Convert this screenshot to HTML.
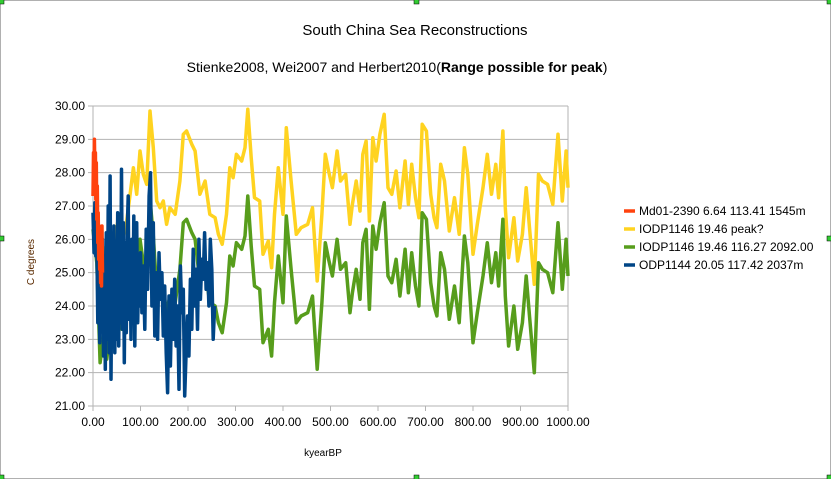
<!DOCTYPE html>
<html><head><meta charset="utf-8"><style>
body{margin:0;background:#fff;}
#wrap{position:relative;width:831px;height:479px;overflow:hidden;font-family:"Liberation Sans",sans-serif;}
svg text{font-family:"Liberation Sans",sans-serif;}
</style></head><body>
<div id="wrap">
<svg id="chart" width="831" height="479"></svg>
</div>
<script>
const xTicks=[0,100,200,300,400,500,600,700,800,900,1000];
const yTicks=[21,22,23,24,25,26,27,28,29,30];
const redK=[0,1,2,3,4,5,6,7,8,9,10,11,12,13,14,15,16,17,18,19,20];
const redV=[27.3,28.6,27.6,29.0,28.0,28.6,27.2,28.3,26.6,27.6,25.9,26.8,25.4,26.4,25.1,26.3,24.7,25.8,24.6,26.4,25.0];
const greenK=[0,8,15,22,29,36,43,54,61,71,78,85,92,99,106,113,120,127,134,141,148,155,162,173,183,190,197,208,215,225,236,246,257,264,272,281,288,295,302,313,320,326,333,340,351,358,369,376,382,390,400,407,417,428,438,452,462,472,482,489,496,504,514,521,532,541,546,554,562,568,575,582,589,596,604,613,621,629,638,646,657,664,671,679,686,693,702,711,718,724,732,740,750,761,771,782,789,800,809,821,830,839,848,854,863,868,875,886,894,904,912,919,929,938,946,957,968,979,988,996,1000];
const greenV=[26.3,25.3,22.3,23.1,22.4,23.3,22.9,24.1,23.3,23.9,24.7,25.5,24.7,26.0,25.3,25.0,27.2,26.1,24.5,24.3,24.5,23.8,24.3,24.1,25.1,26.5,26.6,26.2,26.0,24.7,25.1,24.1,24.0,23.5,23.2,24.1,25.5,25.2,25.9,25.7,26.1,27.3,25.8,24.6,24.5,22.9,23.3,22.5,24.1,25.5,24.1,26.7,25.1,23.5,23.7,23.8,24.3,22.1,24.1,25.9,25.4,24.9,26.0,25.1,25.3,23.8,24.4,25.1,24.2,25.9,26.3,23.9,26.4,25.7,26.5,27.1,24.9,24.7,25.4,24.3,25.7,24.4,25.6,24.6,24.0,26.8,26.6,24.7,24.0,23.7,25.6,25.1,23.6,24.6,23.5,26.1,25.3,22.9,23.8,24.9,25.9,24.7,25.6,24.6,26.6,24.3,22.8,24.0,22.7,23.5,24.9,23.7,22.0,25.3,25.1,25.0,24.4,26.5,24.5,26.0,24.9];
const yellowK=[10,15,22,29,36,43,54,61,71,78,85,92,99,106,113,120,127,134,141,148,155,162,173,183,190,197,208,215,225,236,246,257,264,272,281,288,295,302,313,320,326,333,340,351,358,369,376,382,390,400,407,417,428,438,452,462,472,482,489,496,504,514,521,532,541,546,554,562,568,575,582,589,596,604,613,621,629,638,646,657,664,671,679,686,693,702,711,718,724,732,740,750,761,771,782,789,800,809,821,830,839,848,854,863,868,875,886,894,904,912,919,929,938,946,957,968,979,988,996,1000];
const yellowV=[26.0,24.95,25.75,25.05,25.95,25.55,26.75,25.95,26.55,27.35,28.15,27.35,28.65,27.95,27.65,29.85,28.75,27.15,26.95,27.15,26.45,26.95,26.75,27.75,29.15,29.25,28.85,28.65,27.35,27.75,26.75,26.65,26.15,25.85,26.75,28.15,27.85,28.55,28.35,28.75,29.9,28.45,27.25,27.15,25.55,25.95,25.15,26.75,28.15,26.75,29.35,27.75,26.15,26.35,26.45,26.95,24.75,26.75,28.55,28.05,27.55,28.65,27.75,27.95,26.45,27.05,27.75,26.85,28.55,28.95,26.55,29.05,28.35,29.15,29.75,27.55,27.35,28.05,26.95,28.35,27.05,28.25,27.25,26.65,29.45,29.25,27.35,26.65,26.35,28.25,27.75,26.25,27.25,26.15,28.75,27.95,25.55,26.45,27.55,28.55,27.35,28.25,27.25,29.25,26.95,25.45,26.65,25.35,26.15,27.55,26.35,24.65,27.95,27.75,27.65,27.05,29.15,27.15,28.65,27.55];
const blueK=[0,2,4,6,8,10,12,14,16,18,20,22,24,26,28,30,32,34,36,38,40,42,44,46,48,50,52,54,56,58,60,62,64,66,68,70,72,74,76,78,80,82,84,86,88,90,92,94,96,98,100,103,106,109,112,115,118,121,124,127,130,133,136,139,142,145,148,151,154,157,160,163,166,169,172,175,178,181,184,187,190,193,196,199,202,205,208,211,214,217,220,223,226,229,232,235,238,241,244,247,250,253,256];
const blueV=[26.8,25.6,27.1,25.5,26.0,23.5,25.8,22.9,25.3,23.6,26.0,22.5,25.5,22.1,26.2,23.0,27.0,22.6,27.9,21.8,25.6,23.2,26.4,22.6,25.8,23.0,26.8,22.8,26.0,23.5,28.1,23.3,26.5,22.3,25.9,23.2,26.2,27.3,23.6,25.4,23.0,26.0,23.8,26.7,22.8,25.3,26.5,23.5,25.0,24.0,25.6,23.8,25.2,23.3,26.3,24.5,27.3,28.0,24.0,26.5,23.1,25.0,23.0,25.6,24.2,25.0,23.1,24.6,22.6,21.4,24.3,22.2,24.5,23.0,24.8,22.8,24.0,21.5,25.2,23.8,24.5,21.3,22.6,23.7,22.5,24.8,23.3,25.7,24.0,25.1,23.3,26.0,24.2,25.4,24.8,26.2,24.5,25.3,24.0,26.0,25.1,23.0,24.0];

const NS='http://www.w3.org/2000/svg';
const svg=document.getElementById('chart');
const L=93,R=568,T=106,B=406;
const xs=k=>L+(k-0)/1000*(R-L);
const ys=v=>B-(v-21)/9*(B-T);
function mk(tag,attrs,parent){const e=document.createElementNS(NS,tag);for(const k in attrs)e.setAttribute(k,attrs[k]);(parent||svg).appendChild(e);return e;}

let fr=mk('rect',{x:0.5,y:0.5,width:830,height:478,fill:'#fff',stroke:'#b0b0b0'});



let t=mk('text',{x:415,y:35,'text-anchor':'middle','font-size':'15',fill:'#000'});t.textContent='South China Sea Reconstructions';


let st=mk('text',{x:397,y:72,'text-anchor':'middle','font-size':'14',fill:'#000'});


let s1=mk('tspan',{},st);s1.textContent='Stienke2008, Wei2007 and Herbert2010(';
let s2=mk('tspan',{'font-weight':'bold'},st);s2.textContent='Range possible for peak';
let s3=mk('tspan',{},st);s3.textContent=')';

yTicks.forEach(v=>{
  let g=mk('line',{x1:L-5,x2:R,y1:ys(v),y2:ys(v),stroke:'#b3b3b3','stroke-width':1});
  
  
  let lb=mk('text',{x:L-8,y:ys(v)+4,'text-anchor':'end','font-size':'12',fill:'#000'});lb.textContent=v.toFixed(2);
  
  
});
let ya=mk('line',{x1:L,x2:L,y1:T,y2:B,stroke:'#b3b3b3'});


let rb=mk('line',{x1:R,x2:R,y1:T,y2:B+5,stroke:'#b3b3b3'});


xTicks.forEach(k=>{
  let tk=mk('line',{x1:xs(k),x2:xs(k),y1:B,y2:B+5,stroke:'#b3b3b3'});
  
  
  let lb=mk('text',{x:xs(k),y:B+20,'text-anchor':'middle','font-size':'12',fill:'#000'});lb.textContent=k.toFixed(2);
  
  
});
let xt=mk('text',{x:323,y:456,'text-anchor':'middle','font-size':'10',fill:'#000'});xt.textContent='kyearBP';


let yt=mk('text',{x:34,y:262,'text-anchor':'middle','font-size':'10',fill:'#5a2a00',transform:'rotate(-90 34 262)'});yt.textContent='C degrees';



function series(K,V,color,name){
  const d=K.map((k,i)=>(i?'L':'M')+xs(k).toFixed(1)+','+ys(V[i]).toFixed(1)).join('');
  const p=mk('path',{d:d,fill:'none',stroke:color,'stroke-width':3.5,'stroke-linejoin':'round'});
  
  
}
series(yellowK,yellowV,'#ffd320','series-iodp1146-peak');
series(greenK,greenV,'#579d1c','series-iodp1146');
series(blueK,blueV,'#004586','series-odp1144');
series(redK,redV,'#ff420e','series-md01-2390');

const legNames=['Md01-2390 6.64 113.41 1545m','IODP1146 19.46 peak?','IODP1146 19.46 116.27 2092.00','ODP1144  20.05 117.42 2037m'];
const legCols=['#ff420e','#ffd320','#579d1c','#004586'];
legNames.forEach((n,i)=>{
  const y=211+i*18;
  let g=mk('g',{});
  
  
  mk('line',{x1:624,x2:635,y1:y,y2:y,stroke:legCols[i],'stroke-width':3.5},g);
  let tx=mk('text',{x:639,y:y+4,'font-size':'12',fill:'#000'},g);tx.textContent=n;
  tx.setAttribute('xml:space','preserve');
});

[[0,0],[415,0],[828,0],[0,237],[828,237],[0,476],[415,476],[828,476]].forEach(p=>{
  let h=mk('rect',{x:p[0]-1,y:p[1]-1,width:5,height:5,fill:'#3c3',stroke:'#000','stroke-width':0.5});
  
  
});
</script>
</body></html>
